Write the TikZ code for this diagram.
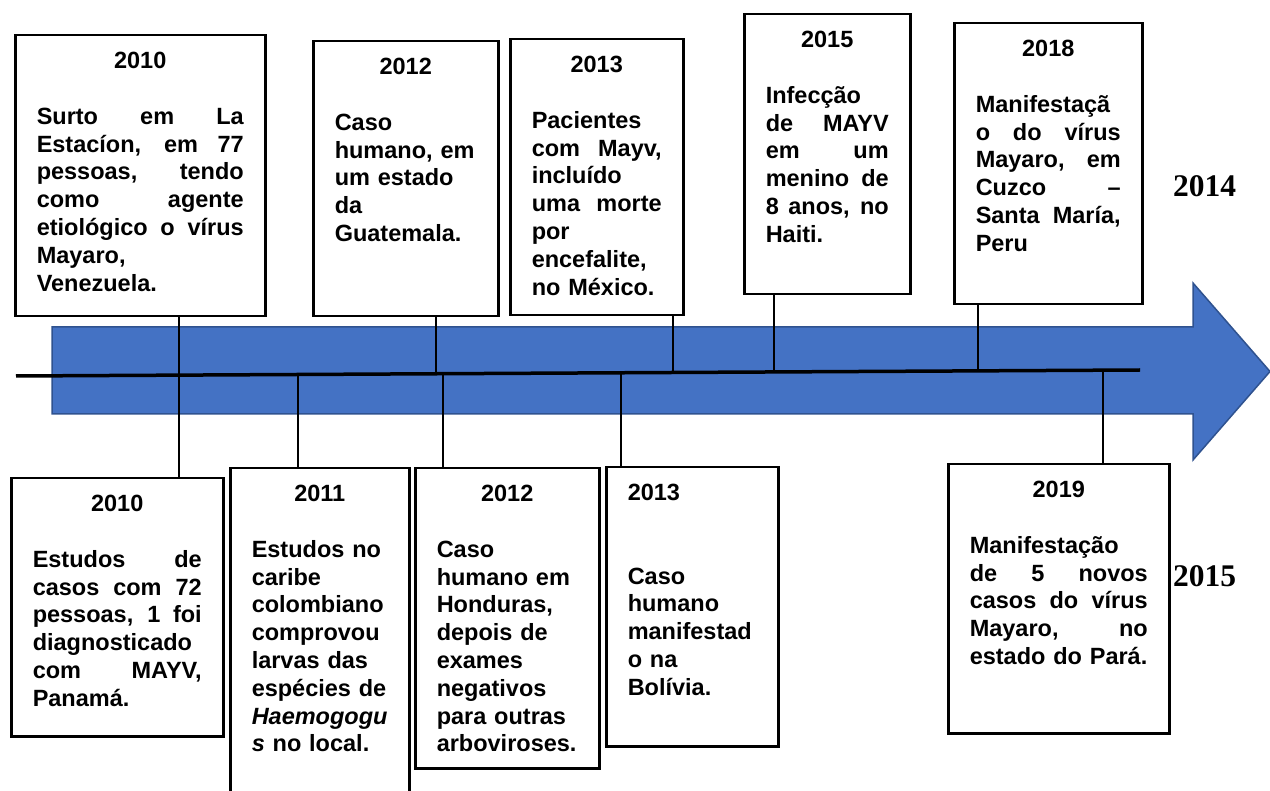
\documentclass[tikz,border=0pt]{standalone}
\usepackage{fontspec}
\setmainfont{Liberation Sans}
\newfontfamily\serifa{Liberation Serif}
\usetikzlibrary{positioning}
\hyphenpenalty=10000
\newcommand{\just}[1]{\leavevmode\hbox to \linewidth{\spaceskip=\fontdimen2\font plus 1fil\xspaceskip=\spaceskip #1}}
\newcommand{\ano}[1]{\makebox[\linewidth]{#1}\\[27.8pt]}
\definecolor{azulseta}{HTML}{4472C4}
\definecolor{bordaseta}{HTML}{2F528F}

\begin{document}
\begin{tikzpicture}[x=1pt, y=-1pt,
	caixa/.style={draw, line width=2.5pt, anchor=north west, inner xsep=21.5pt, inner ysep=0pt,
		align=left, text height=33.4pt, font=\bfseries\fontsize{23.5pt}{27.8pt}\selectfont},
	ligacao/.style={line width=2.5pt},
	linha/.style={line width=3.5pt},
	rotulo/.style={font=\serifa\bfseries\fontsize{31.5pt}{36pt}\selectfont}]
	\useasboundingbox (0,0) rectangle (1270,791);

	% Seta
	\def\setaesq{52}
	\def\setabase{1193}
	\filldraw[fill=azulseta, draw=bordaseta, line width=1.5pt]
		(\setaesq,327) -- (\setabase,327) -- (\setabase,283) -- (1270,371.5)
		-- (\setabase,460) -- (\setabase,414) -- (\setaesq,414) -- cycle;

	% Linha do tempo
	\coordinate (ini) at (16,376);
	\coordinate (fim) at (1140,370);
	\draw[linha] (ini) -- (fim);
	\path (ini) -- (fim)
		coordinate[pos=0.145] (m2010)
		coordinate[pos=0.2509] (m2011)
		coordinate[pos=0.3737] (m2012a)
		coordinate[pos=0.3799] (m2012b)
		coordinate[pos=0.5383] (m2013b)
		coordinate[pos=0.5845] (m2013a)
		coordinate[pos=0.6744] (m2015)
		coordinate[pos=0.8559] (m2018)
		coordinate[pos=0.9671] (m2019);

	% Caixas de cima
	\node[caixa, text width=207pt, text depth=247.6pt] (t2010) at (14,34) {\ano{2010}
		\just{Surto em La}\\
		\just{Estacíon, em 77}\\
		\just{pessoas, tendo}\\
		\just{como agente}\\
		\just{etiológico o vírus}\\
		Mayaro,\\
		Venezuela.};
	\node[caixa, text width=142pt, text depth=241.6pt] (t2012) at (312,40) {\ano{2012}
		Caso\\
		humano, em\\
		um estado\\
		da\\
		Guatemala.};
	\node[caixa, text width=130pt, text depth=242.6pt] (t2013) at (509,38) {\ano{2013}
		Pacientes\\
		\just{com Mayv,}\\
		incluído\\
		\just{uma morte}\\
		por\\
		encefalite,\\
		no México.};
	\node[caixa, text width=123pt, text depth=246.6pt] (t2015) at (743,13) {\ano{2015}
		Infecção\\
		\just{de MAYV}\\
		\just{em um}\\
		\just{menino de}\\
		\just{8 anos, no}\\
		Haiti.};
	\node[caixa, text width=145pt, text depth=247.6pt] (t2018) at (953,22) {\ano{2018}
		Manifestaçã\\
		\just{o do vírus}\\
		\just{Mayaro, em}\\
		\just{Cuzco –}\\
		\just{Santa María,}\\
		Peru};

	% Caixas de baixo
	\node[caixa, text width=169pt, text depth=224.6pt] (b2010) at (10,477) {\ano{2010}
		\just{Estudos de}\\
		\just{casos com 72}\\
		\just{pessoas, 1 foi}\\
		diagnosticado\\
		\just{com MAYV,}\\
		Panamá.};
	\node[caixa, text width=136pt, text depth=296.6pt] (b2011) at (229,467) {\ano{2011}
		Estudos no\\
		caribe\\
		colombiano\\
		comprovou\\
		larvas das\\
		espécies de\\
		\textit{Haemogogu}\\
		\textit{s} no local.};
	\node[caixa, text width=141pt, text depth=266.6pt] (b2012) at (414,467) {\ano{2012}
		Caso\\
		humano em\\
		Honduras,\\
		depois de\\
		exames\\
		negativos\\
		para outras\\
		arboviroses.};
	\node[caixa, text width=129pt, text depth=245.6pt] (b2013) at (605,466) {2013\\[55.6pt]
		Caso\\
		humano\\
		manifestad\\
		o na\\
		Bolívia.};
	\node[caixa, text width=178pt, text depth=235.6pt] (b2019) at (947,463) {\ano{2019}
		Manifestação\\
		\just{de 5 novos}\\
		\just{casos do vírus}\\
		\just{Mayaro, no}\\
		estado do Pará.};

	% Ligacoes
	\draw[ligacao] (t2010.south -| m2010) -- (b2010.north -| m2010);
	\draw[ligacao] (t2012.south -| m2012a) -- (m2012a);
	\draw[ligacao] (t2013.south -| m2013a) -- (m2013a);
	\draw[ligacao] (t2015.south -| m2015) -- (m2015);
	\draw[ligacao] (t2018.south -| m2018) -- (m2018);
	\draw[ligacao] (b2011.north -| m2011) -- (m2011);
	\draw[ligacao] (b2012.north -| m2012b) -- (m2012b);
	\draw[ligacao] (b2013.north -| m2013b) -- (m2013b);
	\draw[ligacao] (b2019.north -| m2019) -- (m2019);

	% Anos ao lado
	\node[rotulo] (r2014) at (1204.5,186) {2014};
	\node[rotulo] (r2015) at (1204.5,576) {2015};
\end{tikzpicture}
\end{document}
